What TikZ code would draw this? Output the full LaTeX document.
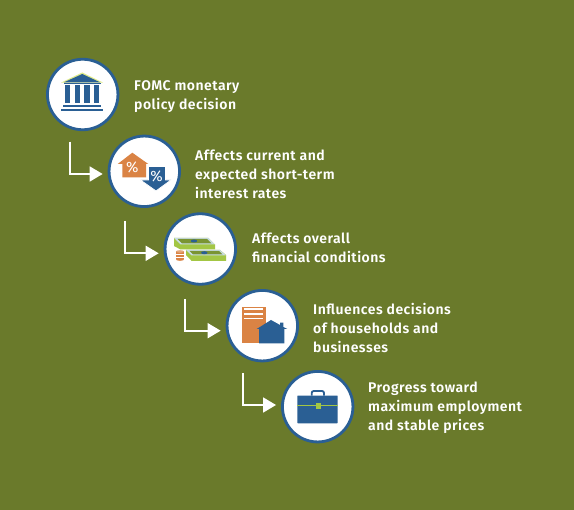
\documentclass[tikz,border=0pt]{standalone}
\usepackage{fontspec}
\setmainfont{Fira Sans}[LetterSpace=3.5,BoldFont={Fira Sans SemiBold}]
\newfontfamily\pctfont{Fira Sans}
\usetikzlibrary{arrows.meta}
\definecolor{bggreen}{HTML}{6A7A2B}
\definecolor{iconblue}{HTML}{2A5F94}
\definecolor{iconorange}{HTML}{DA8344}
\definecolor{billgreen}{HTML}{A3C644}
\definecolor{palesky}{HTML}{C9DDE6}
\tikzset{
    stepcircle/.style={circle, draw=iconblue, line width=2.8pt, fill=white, minimum size=70.5pt, inner sep=0pt},
    steptext/.style={anchor=west, align=left, text=white, inner sep=0pt, font=\fontsize{14}{19}\selectfont\bfseries},
    flowline/.style={draw=white, line width=1.8pt, shorten >=5pt, -{Triangle[length=13pt,width=15pt]}},
    pct/.style={text=white, inner sep=0pt, font=\fontsize{15}{15}\selectfont\pctfont}
}
\begin{document}
\begin{tikzpicture}[x=1pt,y=-1pt]
    \fill[bggreen] (0,0) rectangle (574,510);
    \useasboundingbox (0,0) rectangle (574,510);

    % Nodes
    \node[stepcircle] (fomc) at (82.7,94.5) {};
    \node[stepcircle] (rates) at (144.3,171.3) {};
    \node[stepcircle] (conditions) at (200.3,249) {};
    \node[stepcircle] (households) at (262.3,325.7) {};
    \node[stepcircle] (progress) at (317.7,406.7) {};

    \node[steptext] (fomctext) at (134,97) {FOMC monetary\\policy decision};
    \node[steptext] (ratestext) at (195,174.5) {Affects current and\\expected short-term\\interest rates};
    \node[steptext] (conditionstext) at (252,248.2) {Affects overall\\financial conditions};
    \node[steptext] (householdstext) at (313,327.5) {Influences decisions\\of households and\\businesses};
    \node[steptext] (progresstext) at (368,407.5) {Progress toward\\maximum employment\\and stable prices};

    \coordinate (start1) at (70,141.7);
    \coordinate (start2) at (125.3,221);
    \coordinate (start3) at (184.7,299);
    \coordinate (start4) at (243.3,373.3);

    % Edges
    \draw[flowline] (start1) |- ([yshift=-2.7pt]rates.west);
    \draw[flowline] (start2) |- ([yshift=-4.3pt]conditions.west);
    \draw[flowline] (start3) |- ([yshift=-5pt]households.west);
    \draw[flowline] (start4) |- ([yshift=1.7pt]progress.west);

    % Bank icon
    \fill[palesky!60!yellow] (82.3,72.5) -- (103,82.6) -- (61,82.6) -- cycle;
    \fill[iconblue] (82.3,74) -- (100,82.3) -- (64,82.3) -- cycle;
    \fill[iconblue] (63.5,83) rectangle (101,84.2);
    \foreach \colx in {65,74.8,84.3,94}
        \fill[iconblue] (\colx,85) rectangle ++(5.2,18.5);
    \fill[iconblue] (63.3,105) rectangle (101,107.3);
    \fill[iconblue] (61,108.7) rectangle (103,110.7);

    % Percent arrows
    \fill[iconorange] (132.3,152.7) -- (148.3,164) -- (146,164) -- (146,177.3) -- (122.3,177.3) -- (122.3,164) -- (117.7,164) -- cycle;
    \fill[iconblue, draw=white, line width=0.7pt] (148.5,166.5) -- (165.5,166.5) -- (165.5,180) -- (171,180) -- (156,190.9) -- (140.5,180) -- (148.5,180) -- cycle;
    \node[pct] (pctup) at (132.3,167.3) {\%};
    \node[pct] (pctdown) at (156.5,176.7) {\%};

    % Money icon
    \fill[billgreen] (174,238) -- (208.3,238) -- (215,244.5) -- (215,249.5) -- (180.5,249.5) -- (174,246) -- cycle;
    \fill[palesky] (174,238) -- (208.3,238) -- (215,244.5) -- (180.5,244.5) -- cycle;
    \fill[billgreen!75!black] (177.5,239) -- (207,239) -- (211.5,243.5) -- (182,243.5) -- cycle;
    \fill[iconblue] (194,241) ellipse (3.2 and 1.5);
    \fill[billgreen] (186,250) -- (220,250) -- (226,255) -- (226,261) -- (191.7,261) -- (186,255) -- cycle;
    \fill[palesky] (186,250) -- (220,250) -- (226,255.5) -- (191.7,255.5) -- cycle;
    \fill[billgreen!75!black] (189.5,251) -- (219,251) -- (222.5,254.5) -- (193,254.5) -- cycle;
    \fill[iconblue] (204.3,252.7) ellipse (3.2 and 1.5);
    \fill[iconorange] (176,251.5) rectangle (184,259.5);
    \fill[iconorange] (180,259.5) ellipse (4 and 1.3);
    \fill[iconorange!70!white] (180,251.5) ellipse (4 and 1.3);
    \foreach \coiny in {254.2,256.8}
        \draw[white, line width=0.4pt] (176,\coiny) -- (184,\coiny);

    % House icon
    \fill[iconorange] (241.7,306.7) rectangle (265.7,343.3);
    \foreach \liney in {309,314,318.3}
        \fill[white] (244,\liney-0.6) rectangle (263.3,\liney+0.6);
    \fill[iconblue] (256.7,329) -- (271,320) -- (280,325) -- (280,322.7) -- (283.3,322.7) -- (283.3,327) -- (287.3,329) -- (284.3,329) -- (284.3,343.3) -- (259,343.3) -- (259,329) -- cycle;

    % Briefcase icon
    \fill[iconblue, rounded corners=0.5pt] (297.3,395.7) rectangle (337.7,423.3);
    \draw[iconblue, line width=1.8pt, rounded corners=2pt] (311.7,395.7) -- (311.7,391) -- (324,391) -- (324,395.7);
    \draw[billgreen, line width=0.5pt] (297.3,405) -- (337.7,405);
    \fill[billgreen] (315.7,403.3) rectangle (320.7,409);
\end{tikzpicture}
\end{document}
